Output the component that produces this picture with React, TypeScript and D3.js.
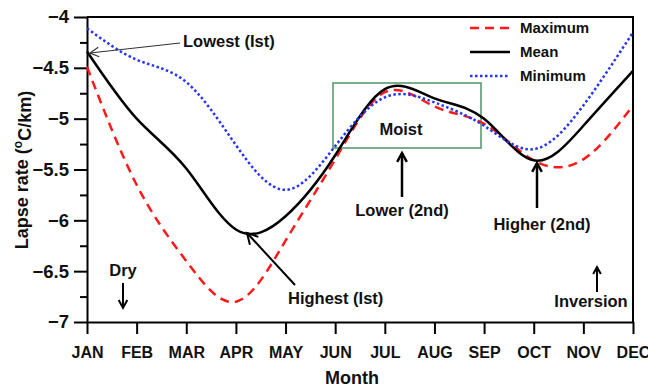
import React, { useEffect, useRef } from "react";
import * as d3 from "d3";

const months = ["JAN", "FEB", "MAR", "APR", "MAY", "JUN", "JUL", "AUG", "SEP", "OCT", "NOV", "DEC"];
const maximum = [-4.49, -5.65, -6.4, -6.8, -6.2, -5.4, -4.74, -4.88, -5.05, -5.41, -5.4, -4.87];
const mean = [-4.34, -5.0, -5.49, -6.09, -5.96, -5.36, -4.71, -4.8, -5.0, -5.41, -5.07, -4.53];
const minimum = [-4.11, -4.42, -4.64, -5.26, -5.7, -5.27, -4.79, -4.84, -5.07, -5.3, -4.87, -4.15];
const yTicks = [-7, -6.5, -6, -5.5, -5, -4.5, -4];
const yMinorTicks = [-6.75, -6.25, -5.75, -5.25, -4.75, -4.25];

const W = 648;
const H = 388;
const margin = { top: 17, right: 15, bottom: 66, left: 87 };
const FONT = "'Liberation Sans', Arial, Helvetica, sans-serif";

const series = [
  { name: "Maximum", values: maximum, color: "#ff1a1a", dash: "9,6" },
  { name: "Mean", values: mean, color: "#000", dash: null },
  { name: "Minimum", values: minimum, color: "#2535f0", dash: "2.5,2.5" },
];

function App() {
  const ref = useRef<SVGSVGElement | null>(null);

  useEffect(() => {
    const root = d3.select(ref.current);
    root.selectAll("*").remove();
    const width = W - margin.left - margin.right;
    const height = H - margin.top - margin.bottom;

    const svg = root.append("g").attr("transform", "translate(" + margin.left + "," + margin.top + ")");

    const x = d3.scalePoint().domain(months).range([0, width]);
    const y = d3.scaleLinear().domain([-7, -4]).range([height, 0]);

    // axes
    const xAxis = svg.append("g")
      .attr("transform", "translate(0," + height + ")")
      .call(d3.axisBottom(x).tickSize(12).tickPadding(13).tickSizeOuter(0));
    xAxis.selectAll("text").style("font-size", "16px");

    svg.append("g")
      .call(d3.axisLeft(y).tickValues(yMinorTicks).tickSize(7).tickFormat(() => "").tickSizeOuter(0))
      .select(".domain").remove();

    const yAxis = svg.append("g")
      .call(d3.axisLeft(y).tickValues(yTicks).tickSize(13).tickPadding(5).tickSizeOuter(0).tickFormat(d3.format("")));
    yAxis.selectAll("text").style("font-size", "18.5px");

    svg.selectAll(".domain, .tick line").attr("stroke", "#000").attr("stroke-width", 2);
    svg.selectAll(".tick text").attr("fill", "#111").style("font-family", FONT).style("font-weight", "bold");

    // frame top and right
    svg.append("path")
      .attr("d", "M0,0H" + width + "V" + height)
      .attr("fill", "none").attr("stroke", "#000").attr("stroke-width", 2);

    // moist box
    svg.append("rect")
      .attr("x", 333 - margin.left).attr("y", 83 - margin.top)
      .attr("width", 148).attr("height", 65)
      .attr("fill", "none").attr("stroke", "#4e9468").attr("stroke-width", 1.5);

    // lines
    const line = d3.line<number>()
      .x((d, i) => x(months[i]) as number)
      .y((d) => y(d))
      .curve(d3.curveNatural);

    series.forEach((s) => {
      svg.append("path")
        .datum(s.values)
        .attr("d", line)
        .attr("fill", "none")
        .attr("stroke", s.color)
        .attr("stroke-width", 2.5)
        .attr("stroke-dasharray", s.dash);
    });

    // legend
    const legend = root.append("g").attr("transform", "translate(470,28)");
    series.forEach((s, i) => {
      legend.append("line")
        .attr("x1", 0).attr("x2", 40).attr("y1", i * 24).attr("y2", i * 24)
        .attr("stroke", s.color).attr("stroke-width", 2.5)
        .attr("stroke-dasharray", s.dash);
      legend.append("text")
        .attr("x", 50).attr("y", i * 24).attr("dy", "0.36em")
        .style("font-family", FONT).style("font-weight", "bold").style("font-size", "15px")
        .attr("fill", "#111")
        .text(s.name);
    });

    // annotations (page coordinates)
    const ann = root.append("g");
    const arrow = (x1: number, y1: number, x2: number, y2: number, w: number, head: number, color: string) => {
      const a = Math.atan2(y2 - y1, x2 - x1);
      const sp = 0.5;
      ann.append("line").attr("x1", x1).attr("y1", y1).attr("x2", x2).attr("y2", y2)
        .attr("stroke", color).attr("stroke-width", w);
      ann.append("path")
        .attr("d", "M" + (x2 - head * Math.cos(a - sp)) + "," + (y2 - head * Math.sin(a - sp)) +
          "L" + x2 + "," + y2 +
          "L" + (x2 - head * Math.cos(a + sp)) + "," + (y2 - head * Math.sin(a + sp)))
        .attr("fill", "none").attr("stroke", color).attr("stroke-width", w);
    };
    const label = (tx: number, ty: number, text: string, anchor: string) => {
      ann.append("text")
        .attr("x", tx).attr("y", ty).attr("dy", "0.36em")
        .attr("text-anchor", anchor)
        .style("font-family", FONT).style("font-weight", "bold").style("font-size", "16.5px")
        .attr("fill", "#111")
        .text(text);
    };

    arrow(180, 43, 90, 53, 1.2, 10, "#333");
    label(183, 41, "Lowest (Ist)", "start");
    arrow(295, 285, 247, 233, 2, 12, "#000");
    label(288, 298, "Highest (Ist)", "start");
    label(401, 129, "Moist", "middle");
    arrow(402, 197, 402, 153, 2.5, 10, "#000");
    label(402, 210, "Lower (2nd)", "middle");
    arrow(537, 208, 537, 163, 2.5, 10, "#000");
    label(542, 224, "Higher (2nd)", "middle");
    arrow(597, 292, 597, 267, 2, 8, "#000");
    label(591, 301, "Inversion", "middle");
    arrow(123, 283, 123, 308, 2, 9, "#000");
    label(123, 270, "Dry", "middle");

    // axis titles
    root.append("text")
      .attr("x", 352).attr("y", 378).attr("dy", "0.36em")
      .attr("text-anchor", "middle")
      .style("font-family", FONT).style("font-weight", "bold").style("font-size", "18px")
      .attr("fill", "#111")
      .text("Month");

    const yt = root.append("text")
      .attr("transform", "translate(22,170) rotate(-90)")
      .attr("dy", "0.36em")
      .attr("text-anchor", "middle")
      .style("font-family", FONT).style("font-weight", "bold").style("font-size", "18px")
      .attr("fill", "#111");
    yt.append("tspan").text("Lapse rate (");
    yt.append("tspan").attr("dy", "-0.5em").style("font-size", "12px").text("o");
    yt.append("tspan").attr("dy", "0.5em").text("C/km)");
  }, []);

  return (
    <svg
      ref={ref}
      width={W}
      height={H}
      style={{ position: "absolute", left: 0, top: 0, background: "#fff" }}
    ></svg>
  );
}

export default App;
